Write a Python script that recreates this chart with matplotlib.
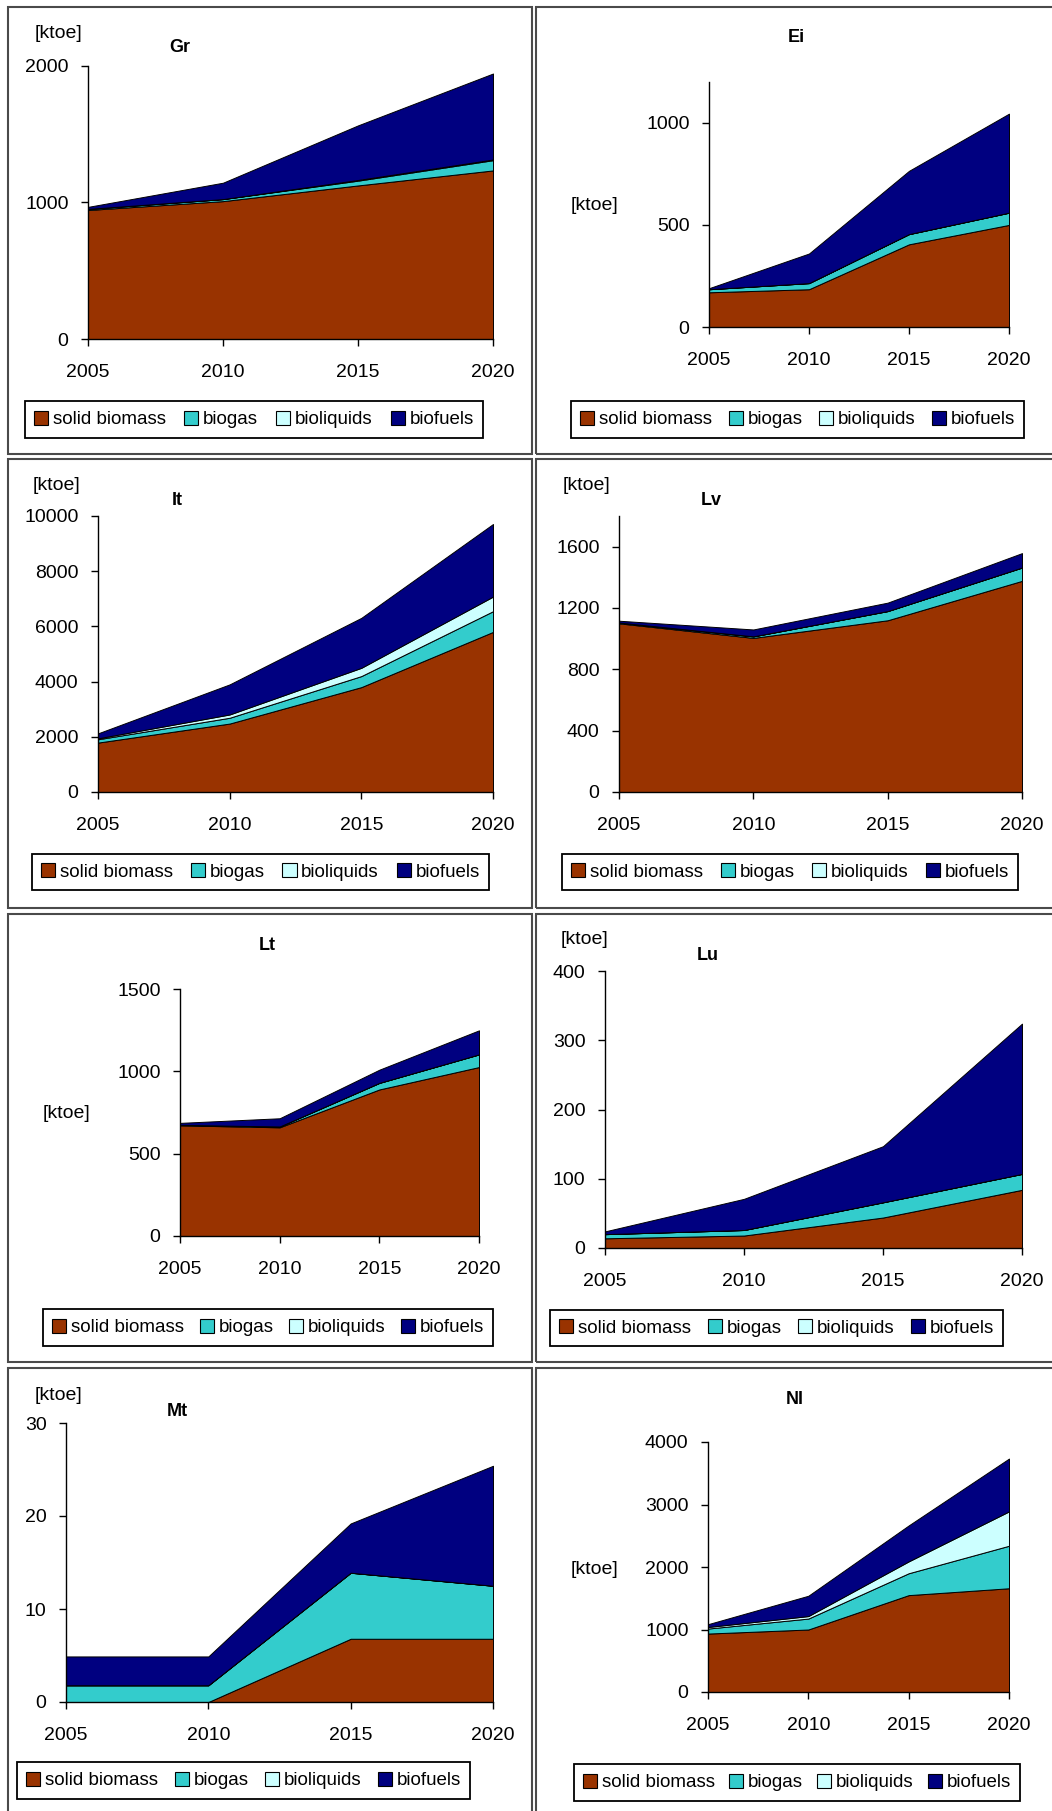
import matplotlib
matplotlib.use("Agg")
import matplotlib.pyplot as plt
from matplotlib.patches import Patch, Rectangle

plt.rcParams['font.family'] = ['Liberation Sans', 'DejaVu Sans']

W, H = 1052, 1811

# ---------------- data ----------------
years = [2005, 2010, 2015, 2020]
year_ticks = [2005, 2010, 2015, 2020]
series_names = ["solid biomass", "biogas", "bioliquids", "biofuels"]
series_colors = ["#993300", "#33CCCC", "#CCFFFF", "#000080"]
unit_label = "[ktoe]"

gr_solid = [945, 1010, 1125, 1235]
gr_biogas = [8, 15, 35, 75]
gr_bioliquids = [0, 0, 5, 5]
gr_biofuels = [15, 120, 400, 630]
gr_yticks = [0, 1000, 2000]

ei_solid = [170, 185, 405, 500]
ei_biogas = [15, 30, 50, 60]
ei_bioliquids = [0, 0, 0, 0]
ei_biofuels = [5, 145, 310, 485]
ei_yticks = [0, 500, 1000]

it_solid = [1790, 2480, 3800, 5800]
it_biogas = [120, 210, 400, 750]
it_bioliquids = [35, 120, 300, 530]
it_biofuels = [180, 1090, 1810, 2630]
it_yticks = [0, 2000, 4000, 6000, 8000, 10000]

lv_solid = [1100, 1005, 1120, 1377]
lv_biogas = [5, 10, 60, 87]
lv_bioliquids = [0, 0, 0, 0]
lv_biofuels = [12, 45, 55, 94]
lv_yticks = [0, 400, 800, 1200, 1600]

lt_solid = [672, 660, 890, 1026]
lt_biogas = [3, 5, 40, 77]
lt_bioliquids = [0, 0, 0, 0]
lt_biofuels = [12, 50, 80, 146]
lt_yticks = [0, 500, 1000, 1500]

lu_solid = [14, 18, 44, 84]
lu_biogas = [6, 8, 22, 23]
lu_bioliquids = [0, 0, 0, 0]
lu_biofuels = [4, 45, 81, 217]
lu_yticks = [0, 100, 200, 300, 400]

mt_solid = [0, 0, 6.8, 6.8]
mt_biogas = [1.8, 1.8, 7.1, 5.7]
mt_bioliquids = [0, 0, 0, 0]
mt_biofuels = [3.1, 3.1, 5.3, 12.9]
mt_yticks = [0, 10, 20, 30]

nl_solid = [935, 1000, 1550, 1660]
nl_biogas = [80, 175, 350, 680]
nl_bioliquids = [25, 40, 190, 550]
nl_biofuels = [45, 325, 575, 845]
nl_yticks = [0, 1000, 2000, 3000, 4000]

countries = ["Gr", "Ei", "It", "Lv", "Lt", "Lu", "Mt", "Nl"]
country_series = {
    "Gr": (gr_solid, gr_biogas, gr_bioliquids, gr_biofuels, gr_yticks, 2000),
    "Ei": (ei_solid, ei_biogas, ei_bioliquids, ei_biofuels, ei_yticks, 1200),
    "It": (it_solid, it_biogas, it_bioliquids, it_biofuels, it_yticks, 10000),
    "Lv": (lv_solid, lv_biogas, lv_bioliquids, lv_biofuels, lv_yticks, 1800),
    "Lt": (lt_solid, lt_biogas, lt_bioliquids, lt_biofuels, lt_yticks, 1500),
    "Lu": (lu_solid, lu_biogas, lu_bioliquids, lu_biofuels, lu_yticks, 400),
    "Mt": (mt_solid, mt_biogas, mt_bioliquids, mt_biofuels, mt_yticks, 30),
    "Nl": (nl_solid, nl_biogas, nl_bioliquids, nl_biofuels, nl_yticks, 4000),
}

# ---------------- layout (pixels) ----------------
# axes: x_left, x_right, y_top, y_bottom
axes_px = {
    "Gr": (88, 493, 66, 339),
    "Ei": (709, 1009, 82, 327),
    "It": (98, 493, 516, 792),
    "Lv": (619, 1022, 516, 792),
    "Lt": (180, 479, 989, 1236),
    "Lu": (605, 1022, 971, 1248),
    "Mt": (66, 493, 1423, 1702),
    "Nl": (708, 1009, 1442, 1692),
}
unit_px = {
    "Gr": (58, 33), "Ei": (595, 205), "It": (57, 486), "Lv": (586, 486),
    "Lt": (66, 1113), "Lu": (585, 940), "Mt": (58, 1396), "Nl": (594, 1569),
}
title_px = {
    "Gr": (180, 48), "Ei": (796, 37), "It": (177, 501), "Lv": (711, 501),
    "Lt": (267, 945), "Lu": (708, 956), "Mt": (177, 1412), "Nl": (795, 1400),
}
legend_px = {
    "Gr": (25, 483, 397, 442), "Ei": (571, 1024, 402, 437),
    "It": (32, 489, 850, 894), "Lv": (562, 1018, 850, 894),
    "Lt": (43, 493, 1310, 1345), "Lu": (550, 1003, 1306, 1350),
    "Mt": (17, 470, 1759, 1802), "Nl": (574, 1020, 1765, 1800),
}
panels_px = [
    (8, 532, 7, 454), (536, 1060, 7, 454),
    (8, 532, 459, 908), (536, 1060, 459, 908),
    (8, 532, 914, 1362), (536, 1060, 914, 1362),
    (8, 532, 1368, 1820), (536, 1060, 1368, 1820),
]

fig = plt.figure(figsize=(W / 100, H / 100), dpi=100)
fig.patch.set_facecolor("white")

for (x0, x1, y0, y1) in panels_px:
    fig.add_artist(Rectangle((x0 / W, 1 - y1 / H), (x1 - x0) / W, (y1 - y0) / H,
                             transform=fig.transFigure, fill=False,
                             edgecolor="#4a4a4a", linewidth=1.5))

handles = [Patch(facecolor=c, edgecolor="black", linewidth=0.8) for c in series_colors]

for c in countries:
    s1, s2, s3, s4, yt, ytop = country_series[c]
    xl, xr, yT, yB = axes_px[c]
    ax = fig.add_axes([xl / W, 1 - yB / H, (xr - xl) / W, (yB - yT) / H])
    ax.patch.set_alpha(0)
    ax.stackplot(years, s1, s2, s3, s4, colors=series_colors,
                 edgecolor="black", linewidth=0.7)
    ax.set_xlim(2005, 2020)
    ax.set_ylim(0, ytop)
    ax.set_xticks(year_ticks)
    ax.set_yticks(yt)
    for sp in ("top", "right"):
        ax.spines[sp].set_visible(False)
    for sp in ("left", "bottom"):
        ax.spines[sp].set_linewidth(1.0)
        ax.spines[sp].set_color("black")
    ax.tick_params(axis="both", direction="out", length=5, width=1.0,
                   labelsize=14, colors="black")
    ax.tick_params(axis="x", pad=13)
    ax.tick_params(axis="y", pad=9)

    ux, uy = unit_px[c]
    fig.text(ux / W, 1 - uy / H, unit_label, ha="center", va="center", fontsize=14)
    tx, ty = title_px[c]
    fig.text(tx / W, 1 - ty / H, c, ha="center", va="center", fontsize=13,
             fontweight="bold")

    lx0, lx1, ly0, ly1 = legend_px[c]
    leg = fig.legend(handles, series_names, loc="center",
                     bbox_to_anchor=(lx0 / W, 1 - ly1 / H, (lx1 - lx0) / W, (ly1 - ly0) / H),
                     bbox_transform=fig.transFigure, mode="expand", ncol=4,
                     frameon=True, fancybox=False, framealpha=1, edgecolor="black",
                     fontsize=13.5, handlelength=0.75, handleheight=0.75,
                     handletextpad=0.25, borderaxespad=0, borderpad=0.5,
                     columnspacing=0.6)
    leg.get_frame().set_linewidth(1.3)

fig.savefig("out.png", dpi=100, facecolor="white")
